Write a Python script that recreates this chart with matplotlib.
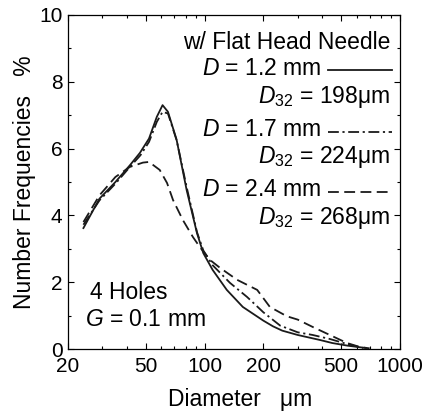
import matplotlib
matplotlib.use("Agg")
import matplotlib.pyplot as plt
from matplotlib.ticker import FixedLocator, NullFormatter, LogLocator

plt.rcParams['font.family'] = ['Liberation Sans', 'DejaVu Sans']
plt.rcParams['mathtext.fontset'] = 'custom'
plt.rcParams['mathtext.rm'] = 'Liberation Sans'
plt.rcParams['mathtext.it'] = 'Liberation Sans:italic'

# D = 1.2 mm (solid)
x_12 = [24, 29, 35, 41.5, 46.7, 52, 57, 61, 65, 72, 81, 91.5, 98.6, 110, 130, 157, 200, 224, 250, 300, 390, 450, 540, 670]
y_12 = [3.62, 4.5, 5.0, 5.5, 5.87, 6.3, 6.95, 7.3, 7.1, 6.26, 4.76, 3.47, 2.87, 2.37, 1.77, 1.26, 0.85, 0.68, 0.55, 0.42, 0.27, 0.18, 0.1, 0.03]
# D = 1.7 mm (dash-dot)
x_17 = [24, 29, 35, 41.5, 47, 52, 57, 61, 65, 72, 81, 91.5, 98.6, 110, 135, 165, 200, 244, 300, 358, 438, 536, 650]
y_17 = [3.72, 4.45, 4.95, 5.45, 5.8, 6.2, 6.8, 7.1, 7.05, 6.25, 4.85, 3.5, 2.95, 2.51, 1.98, 1.56, 1.1, 0.7, 0.5, 0.42, 0.3, 0.15, 0.03]
# D = 2.4 mm (dashed)
x_24 = [24, 29, 35, 41.5, 48.4, 52, 59, 64.3, 69, 77.5, 87.3, 94.7, 107, 120, 147, 186, 216, 264, 300, 358, 438, 536, 624, 700]
y_24 = [3.8, 4.6, 5.15, 5.45, 5.58, 5.6, 5.36, 4.97, 4.46, 3.86, 3.35, 3.05, 2.66, 2.43, 2.07, 1.77, 1.26, 0.98, 0.88, 0.66, 0.42, 0.18, 0.06, 0.02]

d_labels = ['$D$ = 1.2 mm', '$D$ = 1.7 mm', '$D$ = 2.4 mm']
d32_labels = ['$D_{32}$ = 198μm', '$D_{32}$ = 224μm', '$D_{32}$ = 268μm']
x_ticks = [20, 50, 100, 200, 500, 1000]

fig = plt.figure(figsize=(4.3, 4.15), dpi=100)
ax = fig.add_axes([0.158, 0.159, 0.772, 0.805])

col = '#1a1a1a'
styles = ['-', (0, (6, 2, 1.2, 2)), (0, (6, 3))]
for (xs, ys), ls in zip([(x_12, y_12), (x_17, y_17), (x_24, y_24)], styles):
    ax.plot(xs, ys, color=col, lw=1.3, ls=ls)

ax.set_xscale('log')
ax.set_xlim(20, 1000)
ax.set_ylim(0, 10)
ax.xaxis.set_major_locator(FixedLocator(x_ticks))
ax.set_xticklabels([str(t) for t in x_ticks])
ax.xaxis.set_minor_locator(LogLocator(base=10, subs=range(2, 10)))
ax.xaxis.set_minor_formatter(NullFormatter())
ax.set_yticks([0, 2, 4, 6, 8, 10])
ax.set_yticks([1, 3, 5, 7, 9], minor=True)
ax.tick_params(which='both', direction='in', top=True, right=True, labelsize=15, width=0.8)
ax.tick_params(which='major', length=4)
ax.tick_params(which='minor', length=2.5)
ax.tick_params(axis='x', pad=6)
ax.tick_params(axis='y', pad=4)
for s in ax.spines.values():
    s.set_linewidth(0.9)

ax.set_xlabel('Diameter   μm', fontsize=16.5)
ax.set_ylabel('Number Frequencies   %', fontsize=16.5)
ax.xaxis.set_label_coords(0.52, -0.117)
ax.yaxis.set_label_coords(-0.095, 0.5)

fs = 16.5
ax.text(0.97, 0.919, 'w/ Flat Head Needle', transform=ax.transAxes, ha='right', va='center', fontsize=fs)
d_y = [0.841, 0.656, 0.476]
d32_y = [0.754, 0.575, 0.392]
for i in range(3):
    ax.text(0.765, d_y[i], d_labels[i], transform=ax.transAxes, ha='right', va='center', fontsize=fs)
    ax.plot([0.783, 0.976], [d_y[i] - 0.005] * 2, transform=ax.transAxes, color=col, lw=1.3, ls=styles[i])
    ax.text(0.97, d32_y[i], d32_labels[i], transform=ax.transAxes, ha='right', va='center', fontsize=fs)

ax.text(0.066, 0.168, '4 Holes', transform=ax.transAxes, ha='left', va='center', fontsize=fs)
ax.text(0.051, 0.087, '$G$ = 0.1 mm', transform=ax.transAxes, ha='left', va='center', fontsize=fs)

fig.savefig('out.png', dpi=100)
